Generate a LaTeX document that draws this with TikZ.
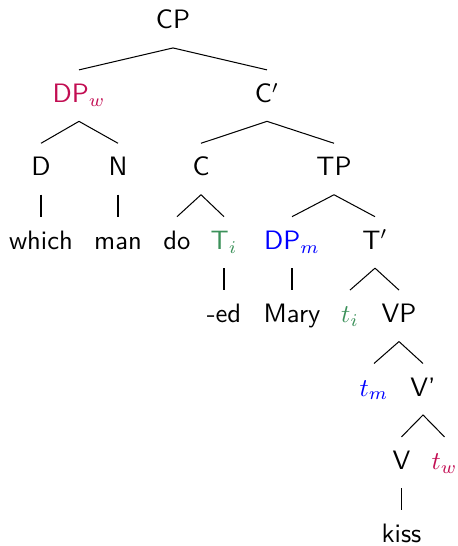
\documentclass[tikz,border=0pt]{standalone}
\usepackage{xcolor}
\definecolor{whcol}{rgb}{0.76,0.05,0.32}
\definecolor{trcol}{RGB}{60,145,90}

\begin{document}
\begin{tikzpicture}[x=0.390625pt,y=-0.390625pt,
                lbl/.style={font=\sffamily\fontsize{10.4}{12}\selectfont,anchor=base,inner sep=0pt,text height=12.5pt,text depth=7.2pt}]
                \useasboundingbox (0,0) rectangle (457,546);

                \node[lbl] (cp)    at (173,29)     {CP};

                \node[lbl,text=whcol] (dpw) at (79,102.4) {DP$_w$};
                \node[lbl] (cbar)  at (267,102.4)  {C$'$};

                \node[lbl] (d)     at (41,175.8)   {D};
                \node[lbl] (n)     at (118,175.8)  {N};
                \node[lbl] (c)     at (201,175.8)  {C};
                \node[lbl] (tp)    at (334,175.8)  {TP};

                \node[lbl] (which) at (41,249.2)   {which};
                \node[lbl] (man)   at (118,249.2)  {man};
                \node[lbl] (do)    at (177,249.2)  {do};
                \node[lbl,text=trcol] (ti) at (224,249.2) {T$_i$};
                \node[lbl,text=blue] (dpm) at (292,249.2) {DP$_m$};
                \node[lbl] (tbar)  at (375,249.2)  {T$'$};

                \node[lbl] (ed)    at (224,322.6)  {-ed};
                \node[lbl] (mary)  at (292,322.6)  {Mary};
                \node[lbl,text=trcol] (trti) at (350,322.6) {$t_i$};
                \node[lbl] (vp)    at (399,322.6)  {VP};

                \node[lbl,text=blue] (trtm) at (374,396) {$t_m$};
                \node[lbl] (vbar)  at (423,396)    {V'};

                \node[lbl] (v)     at (401.5,469.4) {V};
                \node[lbl,text=whcol] (trtw) at (444.5,469.4) {$t_w$};

                \node[lbl] (kiss)  at (401.5,542.8) {kiss};

                \draw (cp.south) -- (dpw.north);
                \draw (cp.south) -- (cbar.north);
                \draw (dpw.south) -- (d.north);
                \draw (dpw.south) -- (n.north);
                \draw (cbar.south) -- (c.north);
                \draw (cbar.south) -- (tp.north);
                \draw (d.south) -- (which.north);
                \draw (n.south) -- (man.north);
                \draw (c.south) -- (do.north);
                \draw (c.south) -- (ti.north);
                \draw (tp.south) -- (dpm.north);
                \draw (tp.south) -- (tbar.north);
                \draw (ti.south) -- (ed.north);
                \draw (dpm.south) -- (mary.north);
                \draw (tbar.south) -- (trti.north);
                \draw (tbar.south) -- (vp.north);
                \draw (vp.south) -- (trtm.north);
                \draw (vp.south) -- (vbar.north);
                \draw (vbar.south) -- (v.north);
                \draw (vbar.south) -- (trtw.north);
                \draw (v.south) -- (kiss.north);
            \end{tikzpicture}
\end{document}
